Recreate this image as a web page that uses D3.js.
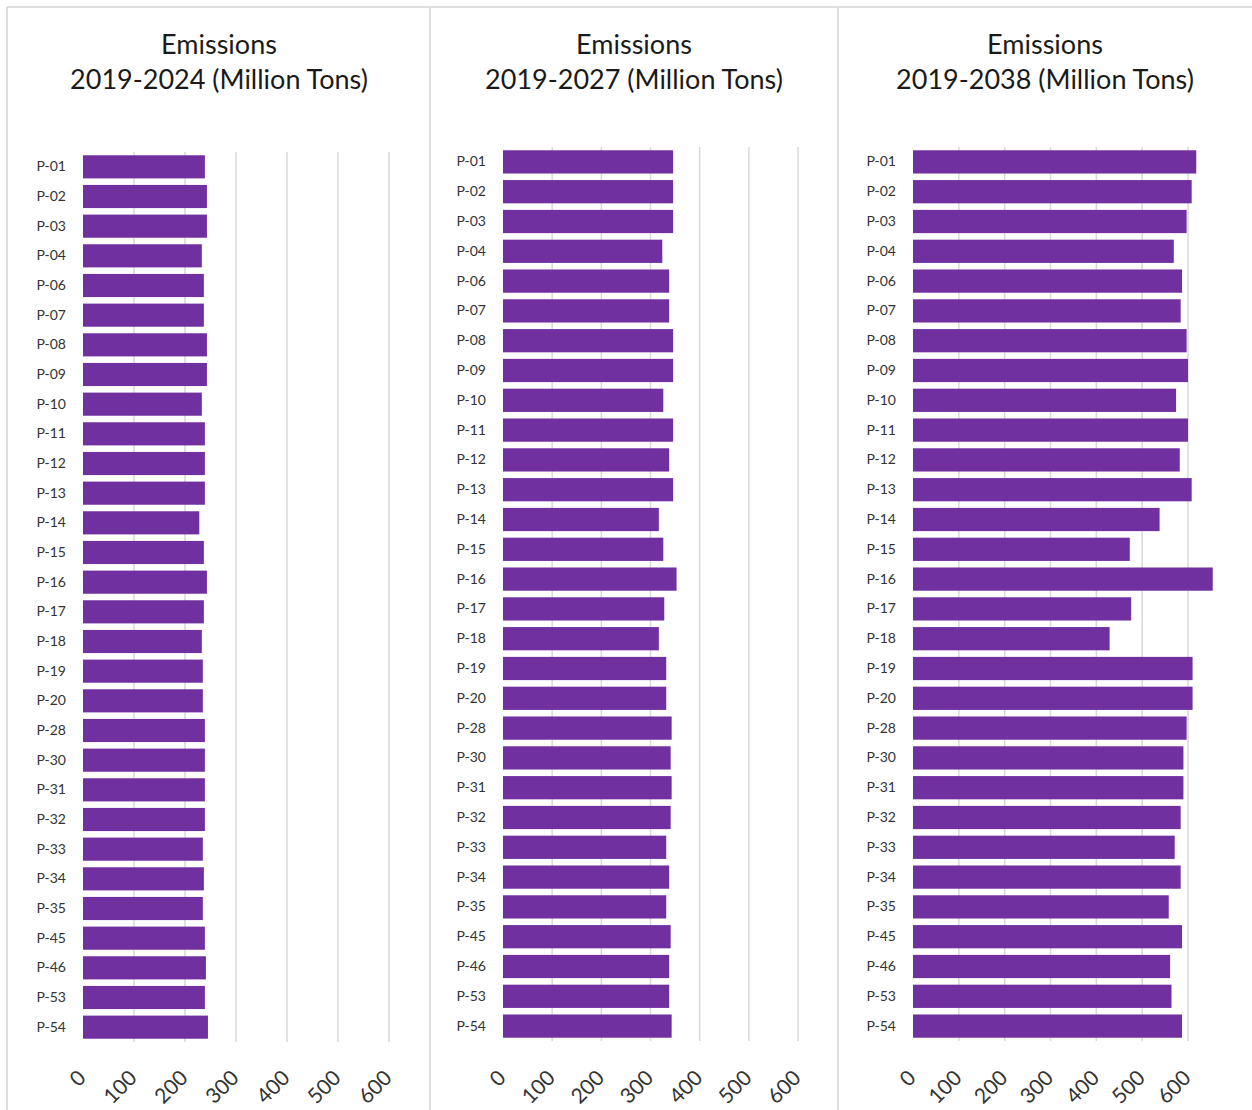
<!DOCTYPE html>
<html>
<head>
<meta charset="utf-8">
<script src="https://cdn.jsdelivr.net/npm/d3@7"></script>
<style>
  html, body { margin: 0; padding: 0; background: #ffffff; }
  svg { display: block; }
</style>
</head>
<body>
<svg id="chart" width="1252" height="1110"></svg>
<script>
// ---------- data ----------
const categories = ["P-01","P-02","P-03","P-04","P-06","P-07","P-08","P-09","P-10","P-11",
  "P-12","P-13","P-14","P-15","P-16","P-17","P-18","P-19","P-20","P-28",
  "P-30","P-31","P-32","P-33","P-34","P-35","P-45","P-46","P-53","P-54"];

const emissions2024 = [239,243,243,233,237,237,243,243,233,239,
  239,239,228,237,243,237,233,235,235,239,
  239,239,239,235,237,235,239,241,239,245];

const emissions2027 = [346,346,346,324,338,338,346,346,326,346,
  338,346,317,326,353,328,317,332,332,343,
  341,343,341,332,338,332,341,338,338,343];

const emissions2038 = [618,608,597,569,587,584,597,600,574,600,
  582,608,538,473,654,476,429,610,610,597,
  590,590,584,571,584,558,587,561,564,587];

const titleLine1 = ["Emissions","Emissions","Emissions"];
const titleLine2 = ["2019-2024 (Million Tons)","2019-2027 (Million Tons)","2019-2038 (Million Tons)"];
const tickValues = [0,100,200,300,400,500,600];

// ---------- layout ----------
const seriesList = [emissions2024, emissions2027, emissions2038];
const layout = [
  { x0: 83,  x1: 389,  y0: 152, y1: 1042, tcx: 219 },
  { x0: 503, x1: 798,  y0: 147, y1: 1041, tcx: 634 },
  { x0: 913, x1: 1188, y0: 147, y1: 1041, tcx: 1045 }
];
const barColor = "#7030a0";
const gridColor = "#d9d9d9";
const borderColor = "#d4d4d4";
const font = "Lato, 'Open Sans', sans-serif";

const svg = d3.select("#chart");

// panel borders
const borders = svg.append("g").attr("stroke", borderColor).attr("stroke-width", 1.5).attr("fill", "none");
borders.append("line").attr("x1", 7).attr("x2", 1252).attr("y1", 7).attr("y2", 7);
[7, 430, 838].forEach(x => borders.append("line").attr("x1", x).attr("x2", x).attr("y1", 7).attr("y2", 1110));

seriesList.forEach((vals, i) => {
  const L = layout[i];
  const g = svg.append("g");
  const x = d3.scaleLinear().domain([0, 600]).range([L.x0, L.x1]);
  const y = d3.scaleBand().domain(categories).range([L.y0, L.y1]).paddingInner(0.22).paddingOuter(0.11);

  // titles
  g.append("text").attr("x", L.tcx).attr("y", 54).attr("text-anchor", "middle")
    .attr("font-family", font).attr("font-size", 27).attr("fill", "#1a1a1a").text(titleLine1[i]);
  g.append("text").attr("x", L.tcx).attr("y", 89).attr("text-anchor", "middle")
    .attr("font-family", font).attr("font-size", 27).attr("fill", "#1a1a1a").text(titleLine2[i]);

  // gridlines
  g.append("g").selectAll("line").data(tickValues.filter(t => t > 0)).join("line")
    .attr("x1", d => x(d)).attr("x2", d => x(d))
    .attr("y1", L.y0).attr("y2", L.y1)
    .attr("stroke", gridColor).attr("stroke-width", 1.5);

  // bars
  g.append("g").selectAll("rect").data(categories).join("rect")
    .attr("x", x(0))
    .attr("y", d => y(d))
    .attr("height", y.bandwidth())
    .attr("width", (d, j) => x(vals[j]) - x(0))
    .attr("fill", barColor);

  // category axis
  const yAxis = d3.axisLeft(y).tickSize(0).tickPadding(17);
  const ya = g.append("g").attr("transform", `translate(${L.x0},0)`).call(yAxis);
  ya.select(".domain").remove();
  ya.selectAll("text").attr("font-family", font).attr("font-size", 14).attr("fill", "#333333");

  // value axis labels (rotated)
  g.append("g").selectAll("text").data(tickValues).join("text")
    .attr("transform", d => `translate(${x(d) - 1},${1074}) rotate(-45)`)
    .attr("text-anchor", "end")
    .attr("dy", "0.35em")
    .attr("font-family", font).attr("font-size", 21).attr("fill", "#333333")
    .text(d => d);
});
</script>
</body>
</html>
